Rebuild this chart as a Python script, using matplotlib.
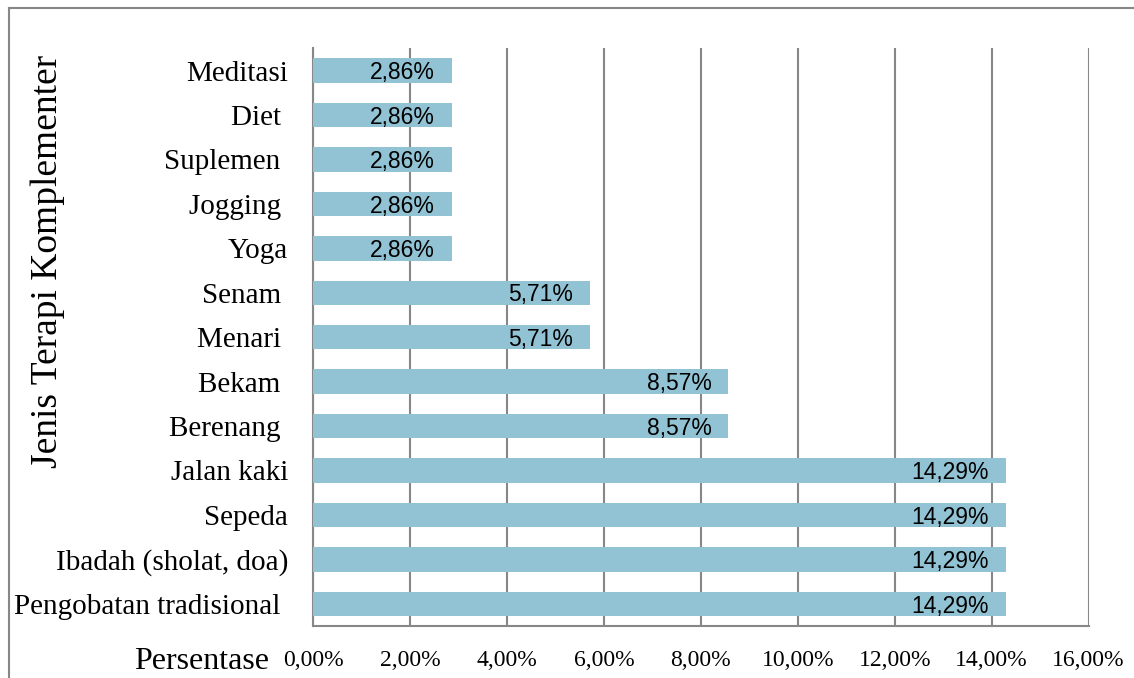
import numpy as np
import matplotlib.pyplot as plt
from matplotlib.lines import Line2D

kategori = ["Meditasi", "Diet ", "Suplemen ", "Jogging ", "Yoga", "Senam ", "Menari ",
            "Bekam ", "Berenang ", "Jalan kaki", "Sepeda", "Ibadah (sholat, doa)",
            "Pengobatan tradisional "]
persen = [2.86, 2.86, 2.86, 2.86, 2.86, 5.71, 5.71, 8.57, 8.57, 14.29, 14.29, 14.29, 14.29]
xticks = [0, 2, 4, 6, 8, 10, 12, 14, 16]

serif = "Liberation Serif"
bar_color = "#92C3D4"
grid_color = "#878787"

fig = plt.figure(figsize=(11.34, 6.78), dpi=100)
ax = fig.add_axes([0.276, 0.0767, 0.684, 0.852])

y = np.arange(len(kategori))[::-1]
ax.barh(y, persen, height=0.55, color=bar_color, zorder=3)

for yi, v in zip(y, persen):
    ax.text(v - 0.35, yi - 0.05, f"{v:.2f}%".replace(".", ","), ha="right", va="center",
            fontsize=16.5, family="Liberation Sans", color="black", zorder=4)

ax.set_xlim(0, 16)
ax.set_ylim(-0.5, len(kategori) - 0.5)
ax.set_xticks(xticks)
ax.set_xticklabels([f"{t:.2f}%".replace(".", ",") for t in xticks], family=serif, fontsize=17)
ax.set_yticks(y)
ax.set_yticklabels(kategori, family=serif, fontsize=21)
ax.tick_params(length=0, pad=18)
ax.tick_params(axis="x", pad=17)
ax.grid(axis="x", color=grid_color, linewidth=1.5, zorder=0)
for s in ["top", "right"]:
    ax.spines[s].set_visible(False)
for s in ["left", "bottom"]:
    ax.spines[s].set_color(grid_color)
    ax.spines[s].set_linewidth(1.5)

fig.text(0.042, 0.614, "Jenis Terapi Komplementer", rotation=90, ha="center", va="center",
         family=serif, fontsize=27)
fig.text(0.237, 0.025, "Persentase", ha="right", va="center", family=serif, fontsize=23)

fig.add_artist(Line2D([0.0075, 0.0075], [0, 0.988], color=grid_color, linewidth=1.5))
fig.add_artist(Line2D([0.0075, 1.0], [0.988, 0.988], color=grid_color, linewidth=1.5))

fig.savefig("out.png", dpi=100)
